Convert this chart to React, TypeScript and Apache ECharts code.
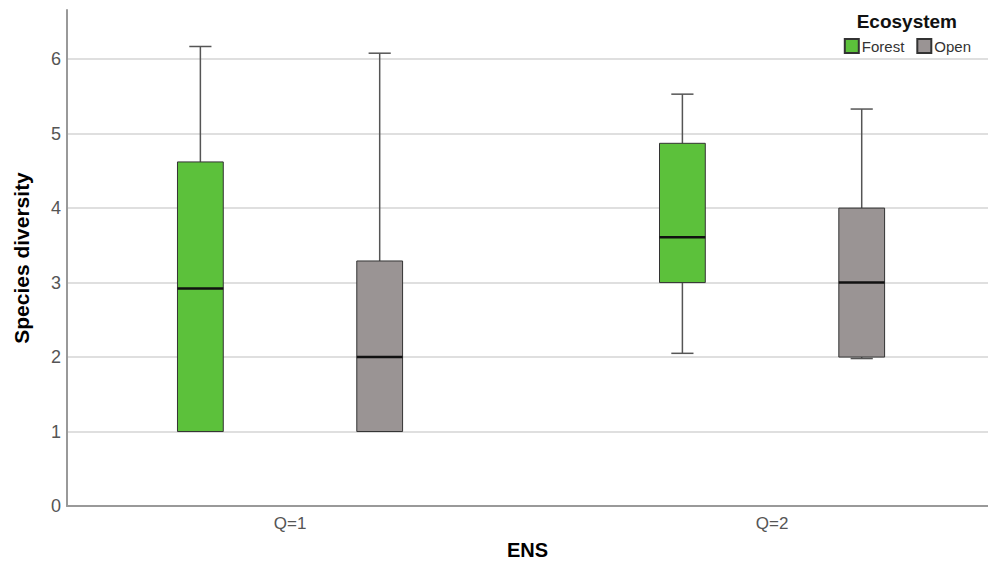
import React, { useEffect, useRef } from "react";
import * as echarts from "echarts";

const categories = ["Q=1", "Q=2"];
const groups = ["Forest", "Open"];
// [min, Q1, median, Q3, max]
const forestStats = [
  [1.0, 1.0, 2.92, 4.62, 6.17],
  [2.05, 3.0, 3.61, 4.87, 5.53],
];
const openStats = [
  [1.0, 1.0, 2.0, 3.29, 6.08],
  [1.98, 2.0, 3.0, 4.0, 5.33],
];
const yTicks = [0, 1, 2, 3, 4, 5, 6];

const GROUP_OFFSET = 0.186;
const BOX_W = 0.095;
const CAP_W = 0.046;
const COLORS = ["#5cc13b", "#9a9494"];

function makeSeries(name: string, stats: number[][], idx: number, color: string) {
  const offset = idx === 0 ? -GROUP_OFFSET : GROUP_OFFSET;
  return {
    name,
    type: "custom",
    itemStyle: { color, borderColor: "#333", borderWidth: 1 },
    data: stats.map((s, i) => [i + 1 + offset, ...s]),
    encode: { x: 0, y: [1, 2, 3, 4, 5] },
    renderItem: (params: any, api: any) => {
      const x = api.value(0);
      const mn = api.value(1), q1 = api.value(2), md = api.value(3), q3 = api.value(4), mx = api.value(5);
      const unit = api.size([1, 0])[0];
      const cx = api.coord([x, 0])[0];
      const hb = (BOX_W * unit) / 2;
      const hc = (CAP_W * unit) / 2;
      const Y = (v: number) => api.coord([x, v])[1];
      const lineStyle = { stroke: "#555", lineWidth: 1.5 };
      const children: any[] = [];
      if (mx > q3) {
        children.push({ type: "line", shape: { x1: cx, y1: Y(q3), x2: cx, y2: Y(mx) }, style: lineStyle });
        children.push({ type: "line", shape: { x1: cx - hc, y1: Y(mx), x2: cx + hc, y2: Y(mx) }, style: lineStyle });
      }
      if (mn < q1) {
        children.push({ type: "line", shape: { x1: cx, y1: Y(q1), x2: cx, y2: Y(mn) }, style: lineStyle });
        children.push({ type: "line", shape: { x1: cx - hc, y1: Y(mn), x2: cx + hc, y2: Y(mn) }, style: lineStyle });
      }
      children.push({
        type: "rect",
        shape: { x: cx - hb, y: Y(q3), width: hb * 2, height: Y(q1) - Y(q3) },
        style: { fill: color, stroke: "#333", lineWidth: 1 },
      });
      children.push({
        type: "line",
        shape: { x1: cx - hb, y1: Y(md), x2: cx + hb, y2: Y(md) },
        style: { stroke: "#111", lineWidth: 2.5 },
      });
      return { type: "group", children };
    },
  };
}

export default function App() {
  const ref = useRef<HTMLDivElement>(null);
  useEffect(() => {
    if (!ref.current) return;
    const chart = echarts.init(ref.current, null, { renderer: "svg" });
    const font = "'Liberation Sans', Arial, sans-serif";
    chart.setOption({
      animation: false,
      backgroundColor: "#fff",
      textStyle: { fontFamily: font },
      title: {
        text: "Ecosystem",
        right: 26,
        top: 7,
        textStyle: { fontSize: 19, fontWeight: "bold", color: "#111", fontFamily: font },
      },
      legend: {
        data: groups,
        right: 12,
        top: 33,
        icon: "rect",
        itemWidth: 14,
        itemHeight: 14,
        itemGap: 12,
        textStyle: { fontSize: 15, color: "#333", fontFamily: font, padding: [0, 0, 0, -2] },
      },
      grid: { left: 67, right: 0, top: 10, bottom: 66 },
      xAxis: {
        type: "value",
        min: 0.5373,
        max: 2.448,
        name: "ENS",
        nameLocation: "middle",
        nameGap: 34,
        nameTextStyle: { fontSize: 20, fontWeight: "bold", color: "#000", fontFamily: font },
        axisLine: { show: true, lineStyle: { color: "#999", width: 2 } },
        axisTick: { show: false },
        splitLine: { show: false },
        axisLabel: {
          customValues: [1, 2],
          formatter: (v: number) => categories[Math.round(v) - 1] ?? "",
          fontSize: 17,
          color: "#555",
          margin: 9,
          fontFamily: font,
        },
      },
      yAxis: {
        type: "value",
        min: 0,
        max: 6.66,
        interval: 1,
        name: "Species diversity",
        nameLocation: "middle",
        nameRotate: 90,
        nameGap: 35,
        nameTextStyle: { fontSize: 21, fontWeight: "bold", color: "#000", fontFamily: font },
        axisLine: { show: true, lineStyle: { color: "#999", width: 2 } },
        axisTick: { show: false },
        splitLine: { show: true, showMaxLine: false, lineStyle: { color: "#d4d4d4", width: 1.5 } },
        axisLabel: {
          customValues: yTicks,
          fontSize: 18,
          color: "#555",
          margin: 6,
          fontFamily: font,
        },
      },
      series: [
        makeSeries(groups[0], forestStats, 0, COLORS[0]),
        makeSeries(groups[1], openStats, 1, COLORS[1]),
      ],
    });
    return () => chart.dispose();
  }, []);
  return <div ref={ref} style={{ width: 988, height: 572, position: "absolute", left: 0, top: 0 }} />;
}
